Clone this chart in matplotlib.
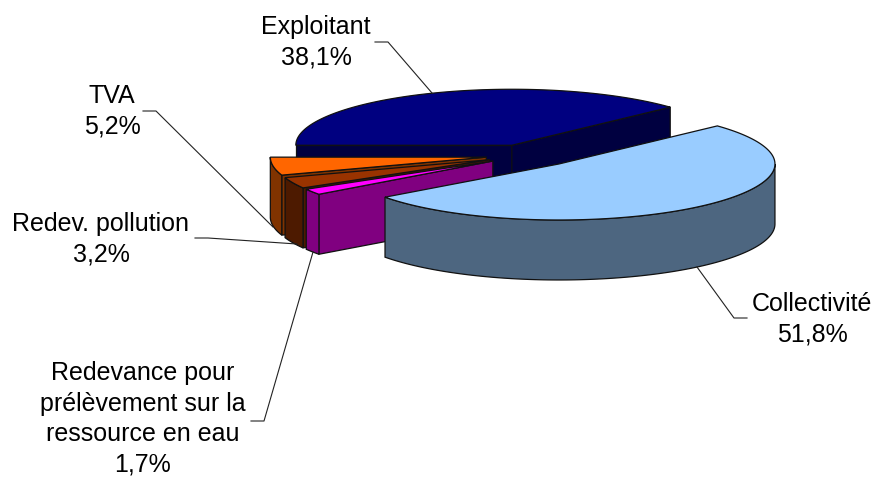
import matplotlib
matplotlib.use("Agg")
import matplotlib.pyplot as plt
import numpy as np

plt.rcParams['font.family'] = ['Liberation Sans', 'DejaVu Sans']

# clockwise from the left side of the pie
names = ['Exploitant', 'Collectivité', 'Redevance pour\nprélèvement sur la\nressource en eau',
         'Redev. pollution', 'TVA']
shares = [38.1, 51.8, 1.7, 3.2, 5.2]
value_labels = ['38,1%', '51,8%', '1,7%', '3,2%', '5,2%']
top_colors = ['#000080', '#99CCFF', '#FF00FF', '#993300', '#FF6600']
side_colors = ['#000040', '#4D6680', '#800080', '#4D1A00', '#803300']
draw_order = [0, 4, 3, 2, 1]

# pie geometry, pixels
CX, CY = 529, 155.5
RX, RY = 216, 56
DEPTH = 60
EXPLODE_X, EXPLODE_Y = 47, 11
explode_scale = [1, 1, 0.92, 0.92, 0.92]
START_ANGLE = 180

# label anchor (centre of text) and leader polyline
label_pos = [(316, 42), (812, 319), (143, 419), (101, 239), (112, 111)]
leaders = [
    [(375, 42), (388, 42), (432, 93)],
    [(747, 318), (734, 318), (697, 267)],
    [(251, 421), (264, 421), (313, 252)],
    [(195, 238), (208, 238), (297, 244)],
    [(143, 111), (156, 111), (273, 227)],
]


def ellipse(cx, cy, deg):
    t = np.radians(deg)
    return cx + RX * np.cos(t), cy - RY * np.sin(t)


def draw_radial_face(ax, cx, cy, deg, color):
    x, y = ellipse(cx, cy, deg)
    ax.fill([cx, x, x, cx], [cy, y, y + DEPTH, cy + DEPTH],
            facecolor=color, edgecolor='#111111', linewidth=0.9, joinstyle='round')


def draw_slice(ax, i, a_start, a_end):
    mid = np.radians((a_start + a_end) / 2)
    cx = CX + EXPLODE_X * explode_scale[i] * np.cos(mid)
    cy = CY - EXPLODE_Y * explode_scale[i] * np.sin(mid)

    # side faces that turn toward the viewer
    if np.cos(np.radians(a_start)) < 0:
        draw_radial_face(ax, cx, cy, a_start, side_colors[i])
    if np.cos(np.radians(a_end)) > 0:
        draw_radial_face(ax, cx, cy, a_end, side_colors[i])

    # outer wall, only the part in the front half
    lo = max(a_end, -180)
    hi = min(a_start, 0)
    if hi > lo:
        xs, ys = ellipse(cx, cy, np.linspace(hi, lo, 120))
        ax.fill(np.r_[xs, xs[::-1]], np.r_[ys, ys[::-1] + DEPTH],
                facecolor=side_colors[i], edgecolor='#111111', linewidth=0.9)

    xs, ys = ellipse(cx, cy, np.linspace(a_start, a_end, 200))
    ax.fill(np.r_[cx, xs], np.r_[cy, ys],
            facecolor=top_colors[i], edgecolor='#111111', linewidth=0.9)


def main():
    fig = plt.figure(figsize=(8.75, 4.79), dpi=100)
    ax = fig.add_axes([0, 0, 1, 1])
    ax.set_xlim(0, 875)
    ax.set_ylim(479, 0)
    ax.axis('off')

    sweep = np.array(shares) / sum(shares) * 360
    starts = START_ANGLE - np.r_[0, np.cumsum(sweep)[:-1]]
    ends = starts - sweep

    # leaders sit under the pie, they stop at its edge
    for pts in leaders:
        xs, ys = zip(*pts)
        ax.plot(xs, ys, color='#222222', linewidth=0.8)

    for i in draw_order:
        draw_slice(ax, i, starts[i], ends[i])

    for name, val, pos in zip(names, value_labels, label_pos):
        ax.text(pos[0], pos[1], name + '\n' + val, ha='center', va='center',
                fontsize=18, color='black', linespacing=1.35)

    fig.savefig('out.png', dpi=100)


if __name__ == "__main__":
    main()
